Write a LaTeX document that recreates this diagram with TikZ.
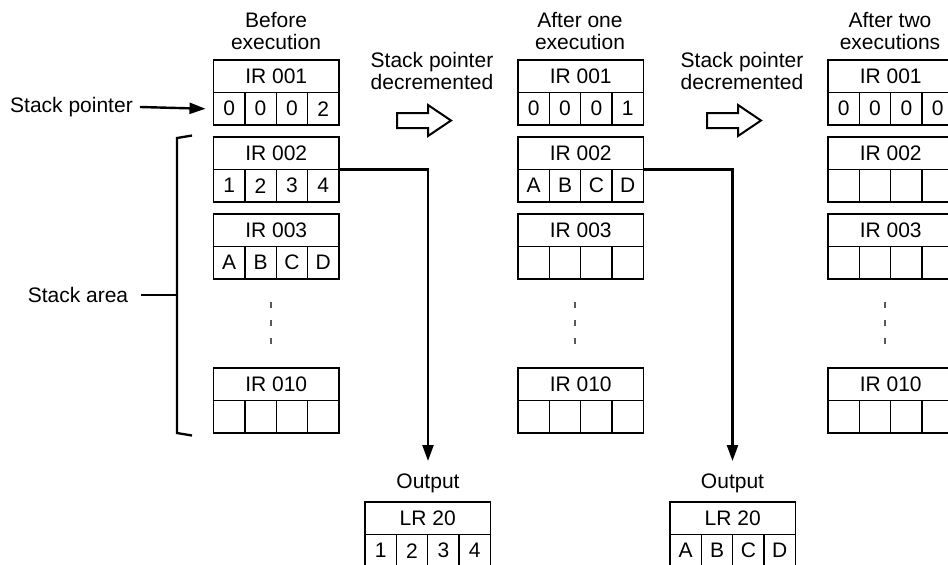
\documentclass[tikz,border=0pt]{standalone}
\usepackage{fontspec}
\setmainfont{Liberation Sans}
\usetikzlibrary{arrows.meta}
\tikzset{
  x=1pt, y=-1pt,
  every node/.style={font=\fontsize{21}{22}\selectfont},
  hcell/.style={draw, line width=1.3pt, inner sep=0pt, outer sep=0pt,
    minimum width=125.5pt, minimum height=32.5pt, anchor=north west},
  dcell/.style={draw, line width=1.3pt, inner sep=0pt, outer sep=0pt,
    minimum width=31.375pt, minimum height=32.5pt, anchor=north west},
  title/.style={align=center, inner sep=0pt},
  conn/.style={line width=2.4pt, -{Triangle[length=16pt,width=11pt]}},
  brk/.style={line width=2.3pt, line join=miter},
  vdots/.style={line width=1.6pt, draw=black!65, dash pattern=on 6pt off 12pt},
  hollow/.style={draw, line width=2pt, fill=white, line join=miter},
}
\newcommand\regblock[8]{%
  \node[hcell] (#1-h) at (#2,#3) {#4};
  \node[dcell] (#1-1) at (#2,#3+32.5) {#5};
  \node[dcell] (#1-2) at (#2+31.375,#3+32.5) {#6};
  \node[dcell] (#1-3) at (#2+62.75,#3+32.5) {#7};
  \node[dcell] (#1-4) at (#2+94.125,#3+32.5) {#8};
}
\begin{document}
\begin{tikzpicture}
\useasboundingbox (0,0) rectangle (948,565);
\clip (0,0) rectangle (948,565);

% titles
\node[title] (t1) at (276,31) {Before\\execution};
\node[title] (t2) at (580,31) {After one\\execution};
\node[title] (t3) at (890,31) {After two\\executions};
\node[title] (d1) at (432,71) {Stack pointer\\decremented};
\node[title] (d2) at (742,71) {Stack pointer\\decremented};

% column 1
\regblock{a1}{213.5}{60}{IR 001}{0}{0}{0}{2}
\regblock{a2}{213.5}{137}{IR 002}{1}{2}{3}{4}
\regblock{a3}{213.5}{214}{IR 003}{A}{B}{C}{D}
\regblock{a4}{213.5}{368}{IR 010}{}{}{}{}
% column 2
\regblock{b1}{518}{60}{IR 001}{0}{0}{0}{1}
\regblock{b2}{518}{137}{IR 002}{A}{B}{C}{D}
\regblock{b3}{518}{214}{IR 003}{}{}{}{}
\regblock{b4}{518}{368}{IR 010}{}{}{}{}
% column 3
\regblock{c1}{828}{60}{IR 001}{0}{0}{0}{0}
\regblock{c2}{828}{137}{IR 002}{}{}{}{}
\regblock{c3}{828}{214}{IR 003}{}{}{}{}
\regblock{c4}{828}{368}{IR 010}{}{}{}{}
% outputs
\node[title] (o1) at (428,483) {Output};
\node[title] (o2) at (732.5,483) {Output};
\regblock{l1}{365}{502}{LR 20}{1}{2}{3}{4}
\regblock{l2}{670}{502}{LR 20}{A}{B}{C}{D}

% vertical dots
\draw[vdots] (271,302) -- (271,346);
\draw[vdots] (575,302) -- (575,346);
\draw[vdots] (885,302) -- (885,346);

% stack pointer
\node[inner sep=0pt] (sp) at (71.5,107) {Stack pointer};
\draw[conn] ([xshift=7pt]sp.east) -- ([xshift=-8pt]a1-1.west);

% stack area bracket
\node[inner sep=0pt] (sa) at (78,295) {Stack area};
\coordinate (bm) at (177,295);
\draw[brk] (192,135.5) -- (177,138) -- (177,433) -- (192,435.5);
\draw[brk] ([xshift=13pt]sa.east) -- (bm);

% hollow arrows
\draw[hollow] (397,113) -- (428,113) -- (428,105) -- (451,120.5) -- (428,136) -- (428,128) -- (397,128) -- cycle;
\draw[hollow] (707,113) -- (738,113) -- (738,105) -- (761,120.5) -- (738,136) -- (738,128) -- (707,128) -- cycle;

% output connectors
\coordinate (e1) at (428,461);
\coordinate (e2) at (732.5,461);
\draw[conn] (a2-h.south east) -| (e1);
\draw[conn] (b2-h.south east) -| (e2);
\end{tikzpicture}
\end{document}
